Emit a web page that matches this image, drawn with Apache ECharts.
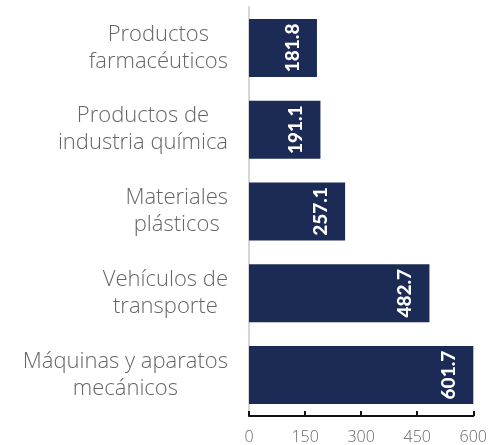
<!DOCTYPE html>
<html>
<head>
<meta charset="utf-8">
<script src="https://cdn.jsdelivr.net/npm/echarts@6/dist/echarts.min.js"></script>
<style>
  html, body { margin: 0; padding: 0; background: #fff; }
  #main { width: 490px; height: 445px; }
</style>
</head>
<body>
<div id="main"></div>
<script>
const categories = [
  'Productos\nfarmacéuticos',
  'Productos de\nindustria química',
  'Materiales\nplásticos',
  'Vehículos de\ntransporte',
  'Máquinas y aparatos\nmecánicos'
];
const values = [181.8, 191.1, 257.1, 482.7, 601.7];
const xTicks = [0, 150, 300, 450, 600];

const catFont = { color: '#666', fontSize: 22, fontFamily: 'Open Sans', fontWeight: 300, lineHeight: 27 };

const chart = echarts.init(document.getElementById('main'));
chart.setOption({
  animation: false,
  grid: { left: 249, right: 16, top: 7, bottom: 28 },
  xAxis: {
    type: 'value',
    min: xTicks[0],
    max: xTicks[xTicks.length - 1],
    interval: 150,
    splitLine: { show: false },
    axisLine: { show: true, lineStyle: { color: '#111', width: 2 } },
    axisTick: { show: true, inside: true, length: 5, lineStyle: { color: '#111', width: 2 } },
    axisLabel: { color: '#666', fontSize: 16, fontFamily: 'Open Sans', fontWeight: 300, margin: 13 }
  },
  yAxis: {
    type: 'category',
    inverse: true,
    data: categories,
    axisLine: { show: true, lineStyle: { color: '#d6d6d6', width: 2 } },
    axisTick: { show: false },
    axisLabel: {
      ...catFont,
      align: 'right',
      margin: 21,
      // lines centred inside a right-aligned block
      formatter: v => v.split('\n').map(s => '{c|' + s + '}').join('\n'),
      rich: { c: { ...catFont, align: 'center' } }
    }
  },
  series: [{
    type: 'bar',
    data: values,
    barWidth: 58,
    itemStyle: { color: '#1c2a56' },
    label: {
      show: true,
      position: 'insideRight',
      rotate: 90,
      align: 'center',
      verticalAlign: 'bottom',
      distance: 15,
      color: '#fff',
      fontWeight: 900,
      fontSize: 19,
      fontFamily: 'Lato',
      formatter: p => p.value.toFixed(1)
    }
  }]
});
</script>
</body>
</html>
